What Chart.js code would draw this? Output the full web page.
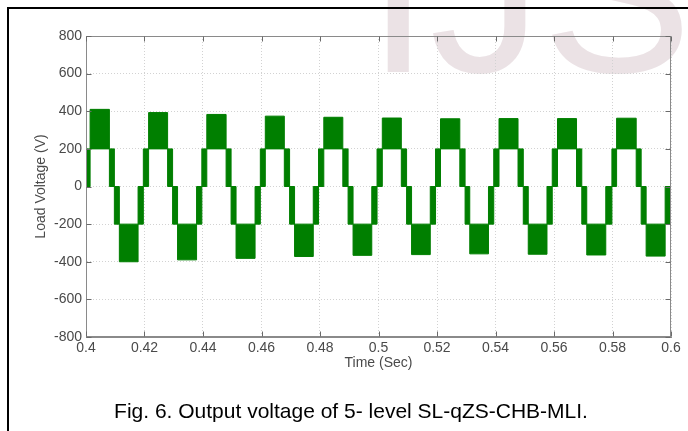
<!DOCTYPE html>
<html>
<head>
<meta charset="utf-8">
<script src="https://cdn.jsdelivr.net/npm/chart.js@4.4.1/dist/chart.umd.min.js"></script>
<style>
  html, body { margin: 0; padding: 0; background: #fff; }
  body { width: 688px; height: 431px; position: relative; overflow: hidden; font-family: Arial, "Liberation Sans", sans-serif; }
  #mark { position: absolute; left: 367px; top: -118px; font-size: 225px; line-height: 225px; color: #ebe2e5; white-space: nowrap; }
  #box { position: absolute; left: 7px; top: 7px; width: 700px; height: 440px; border-top: 2px solid #000; border-left: 2px solid #000; }
  #wrap { position: absolute; left: 0; top: 0; width: 688px; height: 431px; }
  #caption { position: absolute; left: 7px; width: 688px; top: 400px; line-height: 21px; font-size: 21px; text-align: center; color: #000; }
</style>
</head>
<body>
<div id="mark">IJSER</div>
<div id="box"></div>
<div id="wrap"><canvas id="graph" width="688" height="431"></canvas></div>
<div id="caption">Fig. 6. Output voltage of 5- level SL-qZS-CHB-MLI.</div>
<script>
  const xTicks = [0.4, 0.42, 0.44, 0.46, 0.48, 0.5, 0.52, 0.54, 0.56, 0.58, 0.6];
  const xTickLabels = ['0.4', '0.42', '0.44', '0.46', '0.48', '0.5', '0.52', '0.54', '0.56', '0.58', '0.6'];
  const yTicks = [-800, -600, -400, -200, 0, 200, 400, 600, 800];
  const yTickLabels = ['-800', '-600', '-400', '-200', '0', '200', '400', '600', '800'];

  // switching bands (seconds)
  const posStart = [0.4014, 0.4214, 0.4413, 0.4613, 0.4813, 0.5013, 0.5212, 0.5412, 0.5612, 0.5814];
  const posEnd = [0.4080, 0.4279, 0.4479, 0.4678, 0.4878, 0.5078, 0.5278, 0.5477, 0.5677, 0.5881];
  const fallZero = [0.4097, 0.4296, 0.4496, 0.4696, 0.4896, 0.5096, 0.5296, 0.5495, 0.5695, 0.5898];
  const negStart = [0.4114, 0.4313, 0.4513, 0.4713, 0.4913, 0.5113, 0.5312, 0.5512, 0.5712, 0.5915];
  const negEnd = [0.4178, 0.4378, 0.4578, 0.4777, 0.4977, 0.5177, 0.5376, 0.5576, 0.5777, 0.5980];
  const riseZero = [0.4196, 0.4396, 0.4596, 0.4795, 0.4995, 0.5195, 0.5394, 0.5594, 0.5798];

  // peak / trough levels of each block (V)
  const peaks = [410, 393, 383, 374, 368, 364, 360, 361, 361, 363];
  const troughs = [-400, -390, -382, -372, -366, -362, -358, -360, -364, -370];

  const upperPts = [];
  const lowerPts = [];
  const addBand = (t, hi, lo) => {
    upperPts.push({ x: t, y: hi });
    lowerPts.push({ x: t, y: lo });
  };

  addBand(0.4, 200, 0);
  for (let i = 0; i < peaks.length; i++) {
    addBand(posStart[i], peaks[i], 200);
    addBand(posEnd[i], 200, 0);
    addBand(fallZero[i], 0, -200);
    addBand(negStart[i], -200, troughs[i]);
    addBand(negEnd[i], 0, -200);
    if (i < riseZero.length) addBand(riseZero[i], 200, 0);
  }
  addBand(0.6, 0, -200);

  const green = '#007f00';

  const framePlugin = {
    id: 'frame',
    afterDatasetsDraw(chart) {
      const { ctx, chartArea: a, scales: { x, y } } = chart;
      const l = Math.round(a.left) + 0.5;
      const r = Math.round(a.right) - 0.5;
      const t = Math.round(a.top) + 0.5;
      const b = Math.round(a.bottom) - 0.5;
      ctx.save();
      ctx.lineWidth = 1;
      ctx.strokeStyle = '#8a8a8a';
      ctx.strokeRect(l, t, r - l, b - t);
      ctx.strokeStyle = '#6a6a6a';
      ctx.beginPath();
      xTicks.forEach(v => {
        const px = Math.round(x.getPixelForValue(v)) + 0.5;
        ctx.moveTo(px, b); ctx.lineTo(px, b - 5);
        ctx.moveTo(px, t); ctx.lineTo(px, t + 5);
      });
      yTicks.forEach(v => {
        const py = Math.round(y.getPixelForValue(v)) + 0.5;
        ctx.moveTo(l, py); ctx.lineTo(l + 5, py);
        ctx.moveTo(r, py); ctx.lineTo(r - 5, py);
      });
      ctx.stroke();
      ctx.restore();
    },
  };

  const tickFont = { family: 'Arial, "Liberation Sans", sans-serif', size: 14 };

  new Chart(document.getElementById('graph').getContext('2d'), {
    type: 'line',
    data: {
      datasets: [
        {
          data: upperPts,
          stepped: true,
          borderColor: green,
          borderWidth: 1,
          pointRadius: 0,
          fill: false,
        },
        {
          data: lowerPts,
          stepped: true,
          borderColor: green,
          backgroundColor: green,
          borderWidth: 1,
          pointRadius: 0,
          fill: '-1',
        },
      ],
    },
    options: {
      responsive: false,
      animation: false,
      layout: { padding: { top: 36, right: 17, left: 0, bottom: 0 } },
      plugins: { legend: { display: false }, tooltip: { enabled: false } },
      scales: {
        x: {
          type: 'linear',
          min: 0.4,
          max: 0.6,
          afterBuildTicks: scale => { scale.ticks = xTicks.map(v => ({ value: v })); },
          afterFit: scale => { scale.height = 94; },
          ticks: {
            padding: 3,
            color: '#4a4a4a',
            font: tickFont,
            autoSkip: false,
            maxRotation: 0,
            callback: (v, i) => xTickLabels[i],
          },
          grid: { color: '#d2d2d2', drawTicks: false },
          border: { color: '#8a8a8a', dash: [1, 2] },
          title: {
            display: true,
            text: 'Time (Sec)',
            color: '#4a4a4a',
            font: tickFont,
            padding: { top: 0, bottom: 59 },
          },
        },
        y: {
          min: -800,
          max: 800,
          afterBuildTicks: scale => { scale.ticks = yTicks.map(v => ({ value: v })); },
          afterFit: scale => { scale.width = 86; },
          ticks: {
            padding: 4,
            color: '#4a4a4a',
            font: tickFont,
            callback: (v, i) => yTickLabels[i],
          },
          grid: { color: '#d2d2d2', drawTicks: false },
          border: { color: '#8a8a8a', dash: [1, 2] },
          title: {
            display: true,
            text: 'Load Voltage (V)',
            color: '#4a4a4a',
            font: tickFont,
            padding: { top: 33, bottom: 0 },
          },
        },
      },
    },
    plugins: [framePlugin],
  });
</script>
</body>
</html>
